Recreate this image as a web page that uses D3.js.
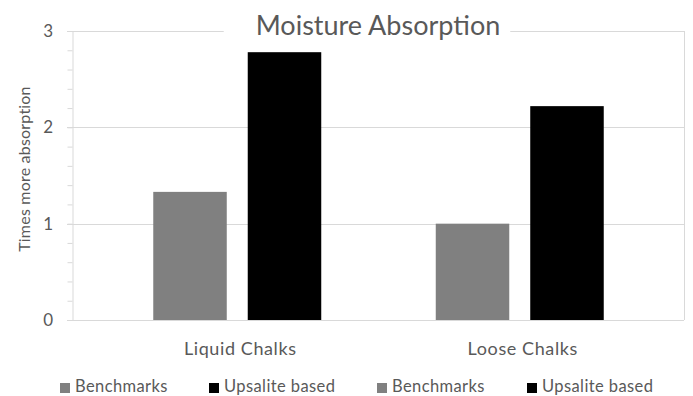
<!DOCTYPE html>
<html>
<head>
<meta charset="utf-8">
<script src="https://cdn.jsdelivr.net/npm/d3@7"></script>
<style>
  body { margin: 0; background: #fff; }
  text { font-family: Lato, "Open Sans", sans-serif; fill: #595959; }
</style>
</head>
<body>
<div id="chart"></div>
<script>
// data
var categories = ["Liquid Chalks", "Loose Chalks"];
var seriesNames = ["Benchmarks", "Upsalite based"];
var benchmarks = [1.33, 1.0];
var upsalite = [2.78, 2.22];
var yTicks = [0, 1, 2, 3];
var legendLabels = ["Benchmarks", "Upsalite based", "Benchmarks", "Upsalite based"];
var legendSeries = [0, 1, 0, 1];

var colors = ["#808080", "#000000"];

var W = 693, H = 396;
var plot = {left: 72, right: 684, top: 31, bottom: 320};
// legend slot starts (layout)
var legendX = [60, 209, 377, 527];

var svg = d3.select("#chart")
  .append("svg")
    .attr("width", W)
    .attr("height", H);

var y = d3.scaleLinear()
  .domain([0, 3])
  .range([plot.bottom, plot.top]);

var x0 = d3.scaleBand()
  .domain(categories)
  .range([96, 661])
  .paddingInner(0)
  .paddingOuter(0);

var x1 = d3.scaleBand()
  .domain(seriesNames)
  .range([0, x0.bandwidth()])
  .paddingInner(0.222)
  .paddingOuter(0.606);

// gridlines
svg.append("g")
  .selectAll("line")
  .data(yTicks.filter(d => d > 0))
  .join("line")
    .attr("x1", plot.left - 5)
    .attr("x2", plot.right)
    .attr("y1", d => Math.round(y(d)) + 0.5)
    .attr("y2", d => Math.round(y(d)) + 0.5)
    .attr("stroke", "#d9d9d9")
    .attr("stroke-width", 1);

// right border
svg.append("line")
  .attr("x1", plot.right + 0.5).attr("x2", plot.right + 0.5)
  .attr("y1", plot.top).attr("y2", plot.bottom)
  .attr("stroke", "#d9d9d9");

// bottom line
svg.append("line")
  .attr("x1", plot.left - 5).attr("x2", plot.right)
  .attr("y1", plot.bottom + 0.5).attr("y2", plot.bottom + 0.5)
  .attr("stroke", "#d9d9d9");

// y axis with minor ticks
var yAxis = svg.append("g")
  .attr("transform", "translate(" + (plot.left + 0.5) + ",0)")
  .call(d3.axisLeft(y).tickValues(d3.range(0, 3.001, 0.2)).tickSize(5).tickFormat(""));
yAxis.select(".domain").attr("stroke", "#d9d9d9");
yAxis.selectAll("line").attr("stroke", "#d9d9d9");

svg.append("g")
  .selectAll("text")
  .data(yTicks)
  .join("text")
    .attr("x", 53)
    .attr("y", d => y(d))
    .attr("dy", "0.36em")
    .attr("text-anchor", "end")
    .style("font-size", "17px")
    .text(d => d);

// bars
var groups = svg.append("g")
  .selectAll("g")
  .data(categories)
  .join("g")
    .attr("transform", d => "translate(" + x0(d) + ",0)");

groups.selectAll("rect")
  .data((d, i) => [benchmarks[i], upsalite[i]].map((v, j) => ({series: seriesNames[j], value: v, idx: j})))
  .join("rect")
    .attr("x", d => x1(d.series))
    .attr("width", x1.bandwidth())
    .attr("y", d => y(d.value))
    .attr("height", d => y(0) - y(d.value))
    .attr("fill", d => colors[d.idx]);

// category labels
svg.append("g")
  .selectAll("text")
  .data(categories)
  .join("text")
    .attr("x", d => x0(d) + x0.bandwidth() / 2 + 3)
    .attr("y", 355)
    .attr("text-anchor", "middle")
    .style("font-size", "18px")
    .style("letter-spacing", "0.6px")
    .text(d => d);

// axis title
svg.append("text")
  .attr("transform", "translate(30,169) rotate(-90)")
  .attr("text-anchor", "middle")
  .style("font-size", "16px")
  .style("letter-spacing", "0.2px")
  .text("Times more absorption");

// title with white box breaking the top gridline
var titleBg = svg.append("rect").attr("fill", "#fff");
var title = svg.append("text")
  .attr("x", (plot.left + plot.right) / 2)
  .attr("y", 35)
  .attr("text-anchor", "middle")
  .style("font-size", "27px")
  .text("Moisture Absorption");
var tb = title.node().getBBox();
titleBg
  .attr("x", tb.x - 32)
  .attr("y", tb.y)
  .attr("width", tb.width + 42)
  .attr("height", tb.height);

// legend
var legend = svg.append("g")
  .selectAll("g")
  .data(legendLabels)
  .join("g")
    .attr("transform", (d, i) => "translate(" + legendX[i] + ",0)");
legend.append("rect")
  .attr("x", 0).attr("y", 383)
  .attr("width", 10).attr("height", 10)
  .attr("fill", (d, i) => colors[legendSeries[i]]);
legend.append("text")
  .attr("x", 15).attr("y", 392)
  .style("font-size", "16.5px")
  .style("letter-spacing", "0.4px")
  .text(d => d);
</script>
</body>
</html>
